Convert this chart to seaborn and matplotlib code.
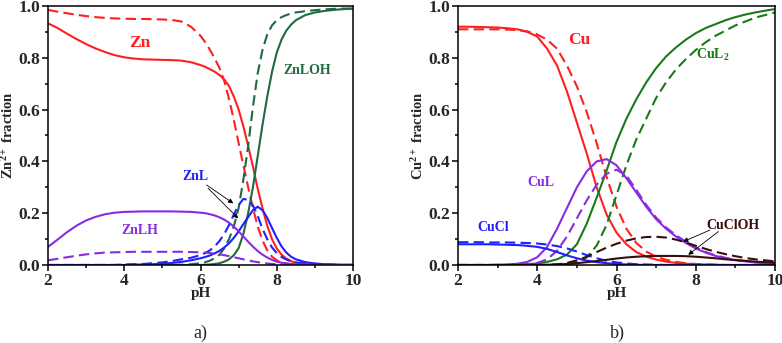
import numpy as np
import matplotlib
matplotlib.use("Agg")
import matplotlib.pyplot as plt
import seaborn as sns

# a) pH grid, finer where the curves are steep
ph_a = [2.0, 2.25, 2.5, 2.75, 3.0, 3.25, 3.5, 3.75, 4.0, 4.25, 4.5, 4.75, 5.0, 5.25, 5.5, 5.75,
        6.0, 6.125, 6.25, 6.375, 6.5, 6.625, 6.75, 6.875, 7.0, 7.125, 7.25, 7.375, 7.5, 7.625, 7.75, 7.875,
        8.0, 8.125, 8.25, 8.375, 8.5, 8.75, 9.0, 9.25, 9.5, 9.75, 10.0]

zn_solid = [0.933, 0.915, 0.893, 0.872, 0.853, 0.836, 0.822, 0.81, 0.802, 0.797, 0.794, 0.793, 0.792, 0.791, 0.789, 0.783,
            0.772, 0.765, 0.756, 0.746, 0.733, 0.716, 0.69, 0.65, 0.60, 0.535, 0.46, 0.38, 0.295, 0.22, 0.152, 0.1,
            0.064, 0.04, 0.025, 0.015, 0.009, 0.004, 0.002, 0.001, 0, 0, 0]
zn_dash = [0.985, 0.978, 0.972, 0.966, 0.961, 0.957, 0.954, 0.952, 0.951, 0.95, 0.95, 0.949, 0.948, 0.946, 0.94, 0.92,
           0.885, 0.86, 0.83, 0.797, 0.76, 0.71, 0.64, 0.56, 0.47, 0.385, 0.30, 0.22, 0.15, 0.095, 0.057, 0.032,
           0.018, 0.01, 0.006, 0.003, 0.002, 0.001, 0, 0, 0, 0, 0]
znloh_solid = [0, 0, 0, 0, 0, 0, 0, 0, 0, 0, 0, 0, 0, 0, 0, 0,
               0, 0.001, 0.002, 0.004, 0.007, 0.013, 0.022, 0.038, 0.065, 0.12, 0.2, 0.3, 0.42, 0.54, 0.65, 0.745,
               0.82, 0.87, 0.905, 0.928, 0.945, 0.965, 0.975, 0.981, 0.985, 0.988, 0.99]
znloh_dash = [0, 0, 0, 0, 0, 0, 0, 0, 0, 0, 0, 0, 0, 0, 0.001, 0.003,
              0.007, 0.011, 0.017, 0.026, 0.04, 0.065, 0.10, 0.15, 0.22, 0.33, 0.46, 0.61, 0.74, 0.83, 0.89, 0.925,
              0.945, 0.957, 0.965, 0.971, 0.975, 0.98, 0.984, 0.987, 0.989, 0.99, 0.99]
znl_solid = [0, 0, 0, 0, 0, 0, 0, 0, 0, 0.001, 0.002, 0.003, 0.005, 0.008, 0.012, 0.018,
             0.026, 0.031, 0.037, 0.045, 0.055, 0.068, 0.084, 0.105, 0.13, 0.158, 0.185, 0.212, 0.225, 0.212, 0.182, 0.143,
             0.105, 0.072, 0.048, 0.032, 0.022, 0.011, 0.006, 0.003, 0.002, 0.001, 0.001]
znl_dash = [0, 0, 0, 0, 0, 0, 0, 0, 0.002, 0.003, 0.004, 0.007, 0.01, 0.015, 0.022, 0.028,
            0.038, 0.046, 0.057, 0.072, 0.093, 0.12, 0.155, 0.195, 0.232, 0.255, 0.252, 0.23, 0.19, 0.14, 0.1, 0.068,
            0.046, 0.031, 0.021, 0.015, 0.01, 0.005, 0.003, 0.002, 0.001, 0, 0]
znlh_solid = [0.07, 0.098, 0.127, 0.152, 0.172, 0.186, 0.196, 0.202, 0.205, 0.206, 0.207, 0.207, 0.207, 0.207, 0.206, 0.205,
              0.202, 0.2, 0.196, 0.191, 0.184, 0.175, 0.163, 0.148, 0.13, 0.11, 0.09, 0.071, 0.054, 0.04, 0.029, 0.02,
              0.013, 0.009, 0.006, 0.004, 0.003, 0.001, 0, 0, 0, 0, 0]
znlh_dash = [0.018, 0.024, 0.03, 0.036, 0.041, 0.045, 0.048, 0.049, 0.05, 0.051, 0.051, 0.051, 0.051, 0.051, 0.051, 0.05,
             0.049, 0.048, 0.046, 0.044, 0.041, 0.038, 0.034, 0.03, 0.026, 0.022, 0.018, 0.014, 0.011, 0.008, 0.006, 0.004,
             0.003, 0.002, 0.001, 0.001, 0, 0, 0, 0, 0, 0, 0]

# b) pH grid
ph_b = [2.0, 2.25, 2.5, 2.75, 3.0, 3.25, 3.5, 3.75, 4.0, 4.25, 4.5, 4.75, 5.0, 5.25, 5.5, 5.75,
        6.0, 6.25, 6.5, 6.75, 7.0, 7.25, 7.5, 7.75, 8.0, 8.25, 8.5, 8.75, 9.0, 9.25, 9.5, 9.75, 10.0]

cu_solid = [0.92, 0.92, 0.919, 0.918, 0.917, 0.914, 0.91, 0.9, 0.882, 0.835, 0.77, 0.67, 0.55, 0.43, 0.3, 0.195,
            0.125, 0.08, 0.05, 0.032, 0.021, 0.013, 0.008, 0.005, 0.003, 0.002, 0.001, 0, 0, 0, 0, 0, 0]
cu_dash = [0.91, 0.91, 0.91, 0.91, 0.91, 0.909, 0.907, 0.902, 0.89, 0.87, 0.835, 0.77, 0.69, 0.59, 0.47, 0.34,
           0.225, 0.14, 0.085, 0.052, 0.032, 0.02, 0.012, 0.007, 0.004, 0.002, 0.001, 0, 0, 0, 0, 0, 0]
cul_solid = [0, 0, 0, 0, 0.001, 0.002, 0.005, 0.012, 0.03, 0.07, 0.14, 0.22, 0.30, 0.362, 0.4, 0.409,
             0.385, 0.335, 0.28, 0.225, 0.177, 0.14, 0.11, 0.085, 0.064, 0.048, 0.035, 0.026, 0.019, 0.014, 0.01, 0.007, 0.005]
cul_dash = [0, 0, 0, 0, 0, 0, 0.001, 0.003, 0.008, 0.022, 0.055, 0.11, 0.18, 0.25, 0.31, 0.352,
            0.368, 0.345, 0.29, 0.232, 0.183, 0.145, 0.115, 0.09, 0.068, 0.05, 0.037, 0.028, 0.02, 0.015, 0.011, 0.008, 0.006]
cul2_solid = [0, 0, 0, 0, 0, 0, 0.001, 0.003, 0.006, 0.012, 0.022, 0.04, 0.08, 0.16, 0.26, 0.365,
              0.475, 0.565, 0.64, 0.705, 0.76, 0.805, 0.84, 0.87, 0.895, 0.915, 0.93, 0.945, 0.957, 0.967, 0.975, 0.982, 0.988]
cul2_dash = [0, 0, 0, 0, 0, 0, 0, 0, 0, 0, 0.002, 0.005, 0.01, 0.03, 0.075, 0.155,
             0.27, 0.385, 0.485, 0.565, 0.645, 0.705, 0.755, 0.795, 0.83, 0.86, 0.885, 0.905, 0.925, 0.94, 0.955, 0.965, 0.975]
cucl_solid = [0.08, 0.08, 0.08, 0.08, 0.079, 0.078, 0.077, 0.074, 0.07, 0.062, 0.05, 0.037, 0.026, 0.017, 0.011, 0.007,
              0.004, 0.002, 0.001, 0, 0, 0, 0, 0, 0, 0, 0, 0, 0, 0, 0, 0, 0]
cucl_dash = [0.088, 0.088, 0.088, 0.087, 0.087, 0.087, 0.086, 0.085, 0.083, 0.079, 0.073, 0.064, 0.052, 0.038, 0.026, 0.016,
             0.01, 0.006, 0.003, 0.002, 0.001, 0, 0, 0, 0, 0, 0, 0, 0, 0, 0, 0, 0]
cucloh_solid = [0, 0, 0, 0, 0, 0, 0, 0, 0, 0.001, 0.002, 0.004, 0.007, 0.011, 0.015, 0.02,
                0.025, 0.029, 0.032, 0.034, 0.035, 0.035, 0.035, 0.034, 0.032, 0.029, 0.026, 0.022, 0.019, 0.016, 0.013, 0.011, 0.009]
cucloh_dash = [0, 0, 0, 0, 0, 0, 0, 0, 0, 0, 0.002, 0.008, 0.018, 0.032, 0.05, 0.067,
               0.082, 0.094, 0.103, 0.108, 0.109, 0.106, 0.098, 0.087, 0.074, 0.062, 0.051, 0.042, 0.034, 0.027, 0.022, 0.018, 0.014]

red = "#ff1f1f"
blue = "#1f1fff"
violet = "#8a2be2"
green_a = "#1d6b40"
green_b = "#1a7a1a"
brown = "#3a0c0c"

sns.set_style("ticks")
plt.rcParams["font.family"] = ["Liberation Serif", "DejaVu Serif"]
plt.rcParams["font.weight"] = "bold"
plt.rcParams["mathtext.fontset"] = "custom"
plt.rcParams["mathtext.rm"] = "Liberation Serif:bold"
plt.rcParams["mathtext.it"] = "Liberation Serif:bold"
plt.rcParams["mathtext.bf"] = "Liberation Serif:bold"
plt.rcParams["mathtext.default"] = "bf"

fig = plt.figure(figsize=(7.82, 3.43), dpi=100)
ax1 = fig.add_axes([48 / 782, 1 - 265 / 343, 305 / 782, 259 / 343])
ax2 = fig.add_axes([458 / 782, 1 - 265 / 343, 317 / 782, 259 / 343])

lw = 1.5
dash = (5, 2.5)

curves_a = [(zn_solid, red, None), (zn_dash, red, dash),
            (znloh_solid, green_a, None), (znloh_dash, green_a, dash),
            (znl_solid, blue, None), (znl_dash, blue, dash),
            (znlh_solid, violet, None), (znlh_dash, violet, dash)]
curves_b = [(cu_solid, red, None), (cu_dash, red, dash),
            (cul2_solid, green_b, None), (cul2_dash, green_b, dash),
            (cul_solid, violet, None), (cul_dash, violet, dash),
            (cucl_solid, blue, None), (cucl_dash, blue, dash),
            (cucloh_solid, brown, None), (cucloh_dash, brown, dash)]

for ax, xs, curves in [(ax1, ph_a, curves_a), (ax2, ph_b, curves_b)]:
    for vals, col, ds in curves:
        l = sns.lineplot(x=xs, y=vals, color=col, lw=lw, ax=ax)
        if ds is not None:
            l.lines[-1].set_dashes(ds)

for ax, ylab in [(ax1, "Zn$^{2+}$ fraction"), (ax2, "Cu$^{2+}$ fraction")]:
    ax.set_xlim(2, 10)
    ax.set_ylim(0, 1)
    ax.set_xticks([2, 4, 6, 8, 10])
    ax.set_xticks([3, 5, 7, 9], minor=True)
    ax.set_yticks(np.arange(0, 1.01, 0.2))
    ax.set_yticks(np.arange(0.1, 1.0, 0.2), minor=True)
    ax.set_yticklabels(["0.0", "0.2", "0.4", "0.6", "0.8", "1.0"])
    ax.tick_params(which="both", bottom=True, left=True, top=False, right=False, color="black")
    ax.tick_params(which="major", direction="out", length=4, width=1.1, labelsize=12.5, pad=1.5)
    ax.tick_params(which="minor", direction="out", length=2.5, width=1.1)
    for s in ax.spines.values():
        s.set_linewidth(1.1)
        s.set_color("black")
    for t in ax.get_xticklabels() + ax.get_yticklabels():
        t.set_fontweight("bold")
    ax.set_xlabel("pH", fontsize=11, fontweight="bold", labelpad=-1)
    ax.set_ylabel(ylab, fontsize=10.5, fontweight="bold", labelpad=2)

# labels on panel a)
ax1.text(4.41, 0.857, "Zn", color=red, fontsize=12.5, fontweight="bold", ha="center", va="center")
ax1.text(8.8, 0.75, "ZnLOH", color=green_a, fontsize=10, fontweight="bold", ha="center", va="center")
ax1.text(4.41, 0.135, "ZnLH", color=violet, fontsize=10, fontweight="bold", ha="center", va="center")
ax1.text(5.86, 0.34, "ZnL", color=blue, fontsize=10, fontweight="bold", ha="center", va="center")
arrow = dict(arrowstyle="-|>", color="black", lw=0.6, mutation_scale=7, shrinkA=0, shrinkB=0)
ax1.annotate("", xy=(6.86, 0.238), xytext=(6.16, 0.309), arrowprops=arrow)
ax1.annotate("", xy=(6.99, 0.18), xytext=(6.2, 0.296), arrowprops=arrow)

# labels on panel b)
ax2.text(5.07, 0.869, "Cu", color=red, fontsize=12.5, fontweight="bold", ha="center", va="center")
ax2.text(8.44, 0.81, "CuL$_2$", color=green_b, fontsize=10, fontweight="bold", ha="center", va="center")
ax2.text(4.1, 0.32, "CuL", color=violet, fontsize=10, fontweight="bold", ha="center", va="center")
ax2.text(2.88, 0.144, "CuCl", color=blue, fontsize=10, fontweight="bold", ha="center", va="center")
ax2.text(8.94, 0.154, "CuClOH", color=brown, fontsize=10, fontweight="bold", ha="center", va="center")
ax2.annotate("", xy=(7.68, 0.09), xytext=(8.36, 0.135), arrowprops=arrow)
ax2.annotate("", xy=(7.81, 0.039), xytext=(8.57, 0.129), arrowprops=arrow)

fig.text(200 / 782, 1 - 333 / 343, "a)", fontsize=13, fontweight="normal", ha="center", va="center")
fig.text(617 / 782, 1 - 333 / 343, "b)", fontsize=13, fontweight="normal", ha="center", va="center")

fig.savefig("out.png", dpi=100)
